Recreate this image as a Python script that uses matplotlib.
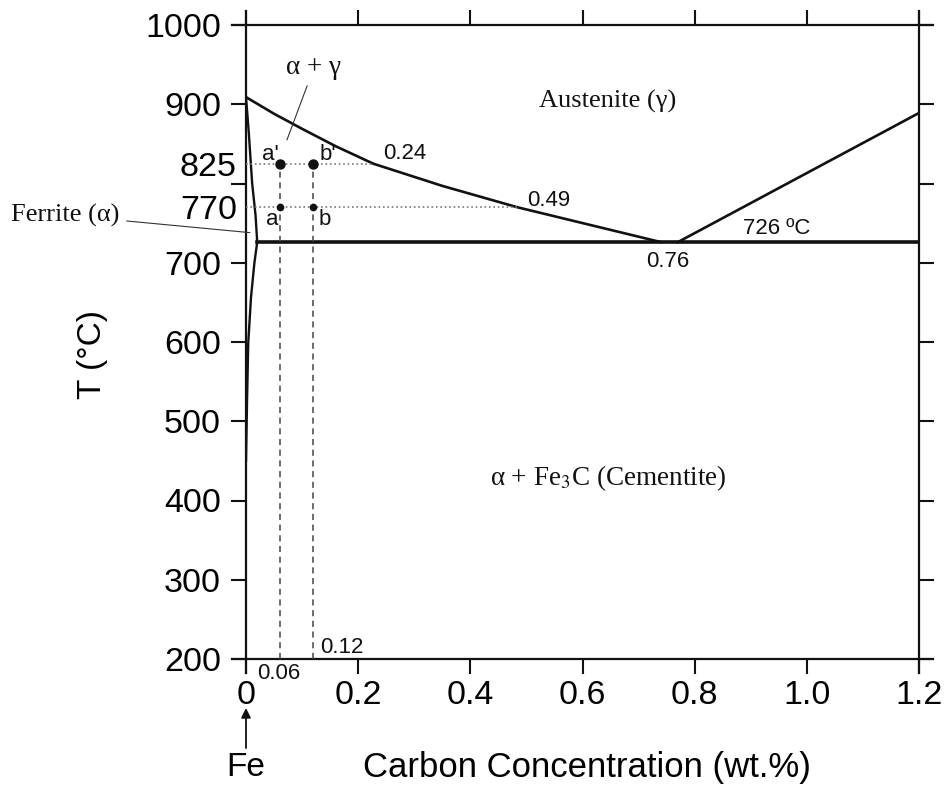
import numpy as np
from matplotlib import pyplot as plt, rcParams

rcParams.update({'font.family': 'Liberation Sans', 'mathtext.fontset': 'stix'})

# --- data ---
# A3 line (alpha+gamma / gamma boundary)
a3_x = [0.0, 0.05, 0.1, 0.16, 0.227, 0.35, 0.484, 0.74]
a3_t = [909, 888, 869, 847, 825, 797, 770, 726]
# Acm line
acm_x = [0.77, 1.2]
acm_t = [726, 889]
# eutectoid isotherm
eut_x = [0.02, 1.2]
eut_t = [726, 726]
# ferrite solvus (upper and lower branch)
fer_x = [0.0, 0.005, 0.011, 0.017, 0.02, 0.015, 0.009, 0.004, 0.002, 0.0]
fer_t = [909, 864, 800, 760, 726, 700, 657, 599, 531, 450]

# tie lines / alloy compositions
t_hi, t_lo = 825, 770
x_hi_end, x_lo_end = 0.227, 0.484
alloys = [0.06, 0.12]

x_ticks = [0, 0.2, 0.4, 0.6, 0.8, 1.0, 1.2]
x_tick_labels = ['0', '0.2', '0.4', '0.6', '0.8', '1.0', '1.2']
y_ticks = [200, 300, 400, 500, 600, 700, 800, 900, 1000]
y_tick_labels = ['200', '300', '400', '500', '600', '700', '', '900', '1000']
y_extra = [770, 825]

fig = plt.figure(figsize=(9.45, 7.87), dpi=100)
ax = fig.add_axes([246/945, 1 - 659/787, 673/945, 634/787])
ax.set_xlim(0, 1.2)
ax.set_ylim(200, 1000)

# frame: lines run a little past the corners
for s in ax.spines.values():
    s.set_visible(False)
ex, ey = 0.021, 0.022
kw = dict(transform=ax.transAxes, clip_on=False, color='#111111', lw=1.6)
ax.plot([-ex, 1 + ex], [0, 0], **kw)
ax.plot([-ex, 1 + ex], [1, 1], **kw)
ax.plot([0, 0], [-ey, 1 + ey], **kw)
ax.plot([1, 1], [-ey, 1 + ey], **kw)

# phase boundaries
ax.plot(a3_x, a3_t, c='#111111', lw=1.9)
ax.plot(acm_x, acm_t, c='#111111', lw=1.9)
ax.plot(eut_x, eut_t, c='#111111', lw=2.6)
ax.plot(fer_x, fer_t, c='#111111', lw=1.7)

# tie lines at 825 and 770
ax.plot([0, x_hi_end], [t_hi, t_hi], ls=':', c='#7a7a7a', lw=1.2)
ax.plot([0, x_lo_end], [t_lo, t_lo], ls=':', c='#7a7a7a', lw=1.2)
for xa in alloys:
    ax.plot([xa, xa], [200, t_hi], ls=(0, (4, 3)), c='#444444', lw=1.1)
ax.plot(alloys, [t_hi] * 2, 'o', c='#111111', ms=6.5)
ax.plot(alloys, [t_lo] * 2, 'o', c='#111111', ms=4.5)

# labels
lab = dict(fontsize=16, color='#111111', va='center')
ax.text(0.043, 837, "a'", ha='center', **lab)
ax.text(0.146, 837, "b'", ha='center', **lab)
ax.text(0.046, 754, 'a', ha='center', **lab)
ax.text(0.141, 754, 'b', ha='center', **lab)
ax.text(0.245, 838, '0.24', ha='left', **lab)
ax.text(0.502, 779, '0.49', ha='left', **lab)
ax.text(0.752, 702, '0.76', ha='center', **lab)
ax.text(0.886, 743, '726 ºC', ha='left', **lab)
ax.text(0.132, 214, '0.12', ha='left', **lab)
ax.text(0.02, 182, '0.06', ha='left', clip_on=False, **lab)

serif = dict(family='Liberation Serif', color='#111111', va='center')
ax.text(0.645, 904, 'Austenite (γ)', ha='center', fontsize=19, **serif)
ax.text(0.645, 428, r'α + Fe$_3$C (Cementite)', ha='center', fontsize=19.5, **serif)
ax.annotate('α + γ', xy=(0.073, 855), xytext=(0.121, 946), ha='center',
            fontsize=19.5, arrowprops=dict(arrowstyle='-', lw=0.8, color='#333333',
                                           shrinkA=2, shrinkB=0), **serif)
ax.annotate('Ferrite (α)', xy=(0.007, 738), xytext=(-0.225, 760), ha='right',
            fontsize=19, annotation_clip=False,
            arrowprops=dict(arrowstyle='-', lw=0.8, color='#333333',
                            shrinkA=3, shrinkB=0), **serif)

# ticks
ax.set_xticks(x_ticks)
ax.set_xticklabels(x_tick_labels)
ax.set_yticks(y_ticks)
ax.set_yticklabels(y_tick_labels)
ax.set_yticks(y_extra, minor=True)
ax.set_yticklabels([str(v) for v in y_extra], minor=True)
ax.tick_params(which='major', direction='out', length=11, width=1.5,
               color='#111111', labelsize=24.5, top=True, right=True)
ax.tick_params(axis='y', which='major', pad=7)
ax.tick_params(axis='x', which='major', pad=4)
ax.tick_params(axis='y', which='minor', length=0, pad=6.5, labelsize=24.5,
               left=True, right=False)

# axis titles
fig.text(587/945, 1 - 767/787, 'Carbon Concentration (wt.%)', fontsize=25,
         ha='center', va='center')
fig.text(93/945, 1 - 355/787, 'T (°C)', fontsize=24, rotation=90,
         ha='center', va='center')
ax.annotate('', xy=(0, 1 - 708/787), xytext=(0, 1 - 748/787),
            xycoords=('data', 'figure fraction'),
            arrowprops=dict(arrowstyle='-|>', lw=1.3, color='#111111',
                            mutation_scale=14, shrinkA=0, shrinkB=0))
ax.annotate('Fe', xy=(0, 1 - 767/787), xycoords=('data', 'figure fraction'),
            fontsize=24, ha='center', va='center')

plt.savefig('out.png', dpi=100)
